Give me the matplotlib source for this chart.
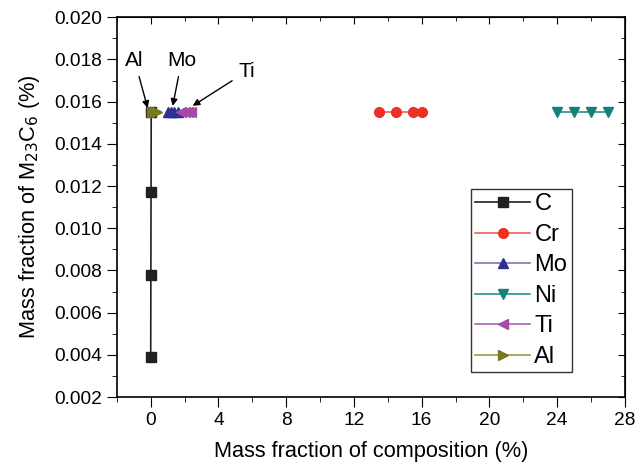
import matplotlib.pyplot as plt
from matplotlib.ticker import MultipleLocator

plt.rcParams['font.family'] = ['Liberation Sans', 'DejaVu Sans']

#data
c_x = [0.0, 0.01, 0.02, 0.03]
c_y = [0.0039, 0.0078, 0.0117, 0.0155]
cr_x = [13.5, 14.5, 15.5, 16.0]
mo_x = [1.0, 1.2, 1.4, 1.6]
ni_x = [24.0, 25.0, 26.0, 27.0]
ti_x = [1.8, 2.0, 2.2, 2.4]
al_x = [0.1, 0.2, 0.3, 0.4]
m23c6 = [0.0155, 0.0155, 0.0155, 0.0155]

fig = plt.figure(figsize=(6.35, 4.65), dpi=100)
ax = fig.add_axes([0.184, 0.146, 0.8, 0.817])

#series: label, x, y, marker, marker colour, line colour
series = [
    ('C', c_x, c_y, 's', '#231f20', '#231f20'),
    ('Cr', cr_x, m23c6, 'o', '#ee2f24', '#f0604f'),
    ('Mo', mo_x, m23c6, '^', '#2e3192', '#7b74b8'),
    ('Ni', ni_x, m23c6, 'v', '#16807b', '#2a918c'),
    ('Ti', ti_x, m23c6, '<', '#a54ba5', '#b061b0'),
    ('Al', al_x, m23c6, '>', '#767a1c', '#9a9d45'),
]
for name, x, y, mk, mc, lc in series:
    ax.plot(x, y, color=lc, linewidth=1.2, marker=mk, markersize=7,
            markerfacecolor=mc, markeredgecolor=mc, label=name)

ax.set_xlim(-2, 28)
ax.set_ylim(0.002, 0.020)
ax.xaxis.set_major_locator(MultipleLocator(4))
ax.xaxis.set_minor_locator(MultipleLocator(2))
ax.yaxis.set_major_locator(MultipleLocator(0.002))
ax.yaxis.set_minor_locator(MultipleLocator(0.001))
ax.yaxis.set_major_formatter(plt.FormatStrFormatter('%.3f'))
ax.tick_params(which='both', direction='out', labelsize=13.8, top=False, right=False)
ax.tick_params(which='major', length=7)
ax.tick_params(which='minor', length=3.5)
for s in ax.spines.values():
    s.set_linewidth(1.2)

#mirror ticks on top and right
sec = ax.secondary_xaxis('top')
sec.set_xticks(range(0, 29, 4), labels=[])
sec.xaxis.set_minor_locator(MultipleLocator(2))
sec.tick_params(which='both', direction='in', length=5)
sec.tick_params(which='minor', length=3)
sec2 = ax.secondary_yaxis('right')
sec2.yaxis.set_major_locator(MultipleLocator(0.002))
sec2.yaxis.set_minor_locator(MultipleLocator(0.001))
sec2.set_yticklabels([])
sec2.tick_params(which='both', direction='in', length=5)
sec2.tick_params(which='minor', length=3)

ax.set_xlabel('Mass fraction of composition (%)', fontsize=15.7, labelpad=9)
ax.set_ylabel('Mass fraction of M$_{23}$C$_6$ (%)', fontsize=15.7, labelpad=9)

arrow = dict(arrowstyle='-|>', color='black', lw=1, mutation_scale=10, shrinkA=3, shrinkB=0)
ax.annotate('Al', xy=(-0.18, 0.0157), xytext=(-0.95, 0.0177), fontsize=15,
            arrowprops=arrow, ha='center', va='baseline')
ax.annotate('Mo', xy=(1.3, 0.0158), xytext=(1.83, 0.0177), fontsize=15,
            arrowprops=arrow, ha='center', va='baseline')
ax.annotate('Ti', xy=(2.48, 0.0158), xytext=(5.67, 0.01717), fontsize=15,
            arrowprops=arrow, ha='center', va='baseline')

leg = ax.legend(loc='upper right', bbox_to_anchor=(0.896, 0.549), fontsize=17,
                frameon=True, fancybox=False, edgecolor='black', handlelength=2.3,
                handletextpad=0.2, labelspacing=0.36, borderpad=0.2, borderaxespad=0)
leg.get_frame().set_linewidth(1)

plt.savefig('out.png', dpi=100)
